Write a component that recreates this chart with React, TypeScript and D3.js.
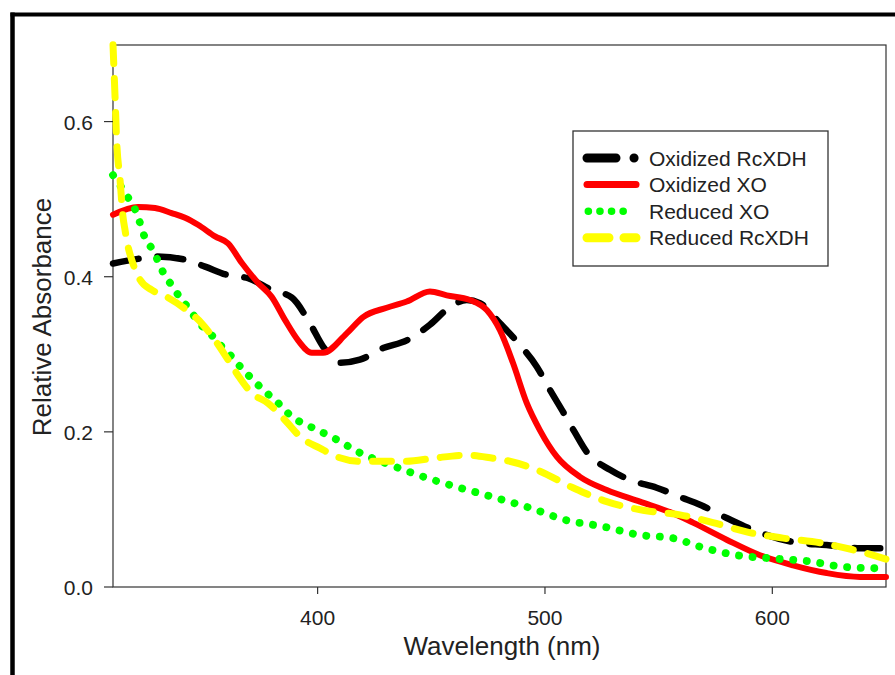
import React from "react";
import * as d3 from "d3";

// ---- Data ----
const wavelengthOxRcXDH = [310, 321, 328.5, 341.7, 350.5, 360.6, 369.4, 379.8, 388.7, 396.6, 402.4, 409.8, 418.6, 428.8, 439.2, 449.4, 458.2, 465.6, 471.4, 480.2, 489, 496.4, 502.2, 507.9, 513.2, 518.4, 528.6, 537.4, 549.1, 559.4, 568.2, 579.9, 594.6, 609.1, 623.9, 638.6, 649];
const absOxRcXDH = [0.417, 0.423, 0.426, 0.422, 0.413, 0.402, 0.398, 0.383, 0.373, 0.34, 0.31, 0.289, 0.293, 0.308, 0.318, 0.338, 0.361, 0.37, 0.366, 0.34, 0.312, 0.284, 0.254, 0.226, 0.199, 0.174, 0.151, 0.138, 0.128, 0.116, 0.106, 0.089, 0.07, 0.058, 0.054, 0.05, 0.05];

const wavelengthOxXO = [310, 321, 328.5, 335.8, 341.7, 347.4, 354.9, 360.6, 366.6, 373.8, 379.8, 385.7, 391.4, 397.4, 402.4, 412.8, 420, 430.4, 439.2, 449.4, 456.8, 467, 474.4, 480.2, 485.9, 492, 497.8, 505.2, 515.4, 527.2, 541.8, 556.3, 565.1, 579.9, 594.6, 609.1, 623.9, 638.6, 650];
const absOxXO = [0.48, 0.49, 0.4885, 0.482, 0.476, 0.467, 0.452, 0.443, 0.418, 0.392, 0.374, 0.344, 0.318, 0.302, 0.302, 0.327, 0.348, 0.36, 0.368, 0.381, 0.376, 0.37, 0.357, 0.331, 0.289, 0.237, 0.202, 0.168, 0.142, 0.125, 0.11, 0.095, 0.083, 0.061, 0.041, 0.028, 0.018, 0.013, 0.013];

const wavelengthRedXO = [310, 315.3, 320.4, 324.1, 327.6, 332, 335.8, 339.5, 343.9, 347.4, 352.7, 357.8, 362.2, 366.6, 371.6, 376.9, 382, 387, 392.2, 398, 408.4, 418.6, 429.6, 439.8, 450.8, 461.2, 477.1, 493.4, 509.6, 525.5, 541.8, 556.3, 568.2, 584.3, 599, 616.6, 631.1, 648];
const absRedXO = [0.531, 0.508, 0.482, 0.45, 0.434, 0.406, 0.389, 0.373, 0.357, 0.342, 0.327, 0.31, 0.297, 0.282, 0.267, 0.252, 0.239, 0.224, 0.213, 0.205, 0.19, 0.173, 0.16, 0.149, 0.138, 0.129, 0.116, 0.102, 0.086, 0.078, 0.067, 0.063, 0.052, 0.041, 0.037, 0.033, 0.026, 0.024];

const wavelengthRedRcXDH = [310, 310.9, 311.6, 313.1, 314.4, 315.3, 316.6, 318.2, 321.9, 327, 334.2, 342.4, 349, 354.9, 360.6, 365.9, 371, 378.2, 385.7, 393, 401, 408.4, 418.6, 430.4, 439.2, 450.8, 465.6, 477.1, 481.5, 496.4, 512.3, 527.2, 543.1, 559.4, 573.9, 588.7, 604.7, 621, 635.5, 650];
const absRedRcXDH = [0.699, 0.632, 0.576, 0.525, 0.477, 0.46, 0.439, 0.422, 0.396, 0.383, 0.373, 0.357, 0.34, 0.318, 0.293, 0.269, 0.25, 0.237, 0.215, 0.192, 0.179, 0.168, 0.162, 0.162, 0.162, 0.166, 0.17, 0.166, 0.164, 0.151, 0.128, 0.11, 0.099, 0.093, 0.083, 0.071, 0.063, 0.057, 0.048, 0.036];

const seriesNames = ["Oxidized RcXDH", "Oxidized XO", "Reduced XO", "Reduced RcXDH"];
const xTicks = [400, 500, 600];
const yTicks = [0.0, 0.2, 0.4, 0.6];
const xTitle = "Wavelength (nm)";
const yTitle = "Relative Absorbance";

const FONT = "'Liberation Sans', Arial, Helvetica, sans-serif";

export default function App() {
  const W = 895;
  const H = 675;
  const L = 113, R = 886, T = 44, B = 587;

  const x = d3.scaleLinear().domain([310, 650]).range([L, R]);
  const y = d3.scaleLinear().domain([0, 0.7]).range([B, T]);

  const line = d3
    .line<[number, number]>()
    .x((d) => x(d[0]))
    .y((d) => y(d[1]))
    .curve(d3.curveMonotoneX);

  const zip = (a: number[], b: number[]) => a.map((v, i) => [v, b[i]] as [number, number]);

  const series = [
    { name: seriesNames[0], data: zip(wavelengthOxRcXDH, absOxRcXDH), color: "#000000", width: 6.5, dash: "26 19", legendWidth: 9, legendDash: "29 18 0.1 100" },
    { name: seriesNames[1], data: zip(wavelengthOxXO, absOxXO), color: "#ff0000", width: 6, dash: undefined, legendWidth: 7, legendDash: undefined },
    { name: seriesNames[2], data: zip(wavelengthRedXO, absRedXO), color: "#00ff00", width: 7.8, dash: "0.1 13.5", legendWidth: 7.5, legendDash: "0.1 11.5" },
    { name: seriesNames[3], data: zip(wavelengthRedRcXDH, absRedRcXDH), color: "#ffff00", width: 7, dash: "19 15", legendWidth: 9, legendDash: "22 15 12 100" },
  ];

  const legendX = 573, legendY = 131, legendW = 255, legendH = 135;
  const rowY0 = 158, rowStep = 26.6;

  return (
    <svg
      width={W}
      height={H}
      viewBox={`0 0 ${W} ${H}`}
      style={{ position: "absolute", left: 0, top: 0, background: "#fff" }}
      fontFamily={FONT}
    >
      <rect x={0} y={0} width={W} height={H} fill="#fff" />
      {/* outer frame (cropped) */}
      <line x1={10.5} y1={14.5} x2={W} y2={14.5} stroke="#000" strokeWidth={4} />
      <line x1={12.5} y1={12.5} x2={12.5} y2={H} stroke="#000" strokeWidth={4.5} />

      {/* plot frame */}
      <rect x={L} y={T + 1} width={R - L} height={B - T - 1} fill="none" stroke="#333" strokeWidth={1.2} />

      {/* series */}
      {series.map((s) => (
        <path
          key={s.name}
          d={line(s.data) || ""}
          fill="none"
          stroke={s.color}
          strokeWidth={s.width}
          strokeDasharray={s.dash}
          strokeLinecap="round"
          strokeLinejoin="round"
        />
      ))}

      {/* y axis ticks */}
      {yTicks.map((t) => (
        <g key={"y" + t}>
          <line x1={L - 9} x2={L} y1={y(t)} y2={y(t)} stroke="#333" strokeWidth={1.2} />
          <text x={L - 20} y={y(t) + 8} textAnchor="end" fontSize={21} fill="#222">
            {d3.format(".1f")(t)}
          </text>
        </g>
      ))}

      {/* x axis ticks */}
      {xTicks.map((t) => (
        <g key={"x" + t}>
          <line x1={x(t)} x2={x(t)} y1={B} y2={B + 7} stroke="#333" strokeWidth={1.2} />
          <text x={x(t)} y={B + 38} textAnchor="middle" fontSize={21} fill="#222">
            {t}
          </text>
        </g>
      ))}

      {/* axis titles */}
      <text x={502} y={655} textAnchor="middle" fontSize={26} fill="#222">
        {xTitle}
      </text>
      <text transform="translate(51,317) rotate(-90)" textAnchor="middle" fontSize={26} fill="#222">
        {yTitle}
      </text>

      {/* legend */}
      <rect x={legendX} y={legendY} width={legendW} height={legendH} fill="#fff" stroke="#333" strokeWidth={1.3} />
      {series.map((s, i) => {
        const cy = rowY0 + i * rowStep;
        const isDots = s.name === "Reduced XO";
        return (
          <g key={"lg" + s.name}>
            <line
              x1={isDots ? 588.3 : 587}
              x2={isDots ? 623.5 : 636}
              y1={cy}
              y2={cy}
              stroke={s.color}
              strokeWidth={s.legendWidth}
              strokeDasharray={s.legendDash}
              strokeLinecap="round"
            />
            <text x={649} y={cy + 7.5} fontSize={21} fill="#222">
              {s.name}
            </text>
          </g>
        );
      })}
    </svg>
  );
}
